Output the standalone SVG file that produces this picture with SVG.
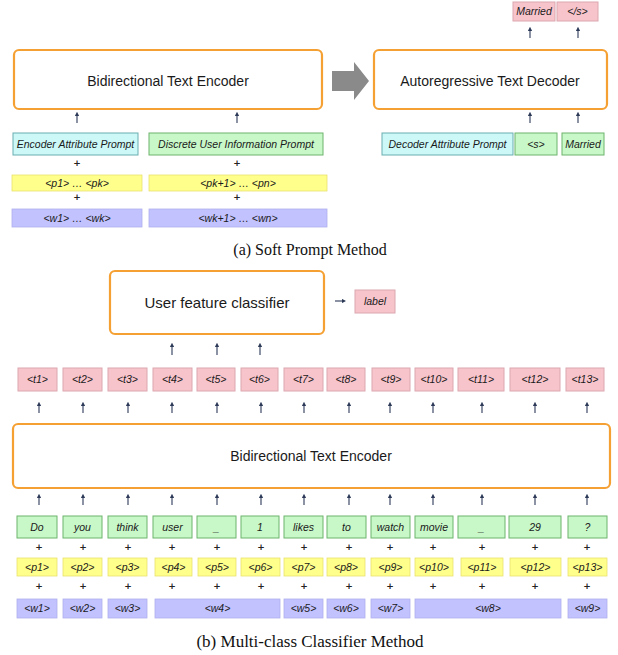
<svg xmlns="http://www.w3.org/2000/svg" width="618" height="655" viewBox="0 0 618 655">
<defs>
<marker id="ah" viewBox="0 0 6 6" refX="3" refY="3" markerWidth="4" markerHeight="4" orient="auto">
<path d="M0,0 L6,3 L0,6 z" fill="#2c3a58"/>
</marker>
<style>
.big{fill:#fff;stroke:#f5a032;stroke-width:2.2}
.t{font-family:"Liberation Sans",Arial,sans-serif;fill:#1a1a1a}
.ti{font-family:"Liberation Sans",Arial,sans-serif;font-style:italic;fill:#1a1a1a;font-size:10.5px;text-anchor:middle}
.h{font-size:14px;text-anchor:middle}
.cap{font-family:"Liberation Serif","Times New Roman",serif;fill:#111;text-anchor:middle}
.cy{fill:#ccf8f8;stroke:#6aaeb0;stroke-width:1}
.gr{fill:#c8f7c8;stroke:#6cb46c;stroke-width:1}
.pk{fill:#f8c4cc;stroke:#dca8b0;stroke-width:1}
.ye{fill:#ffff8c;stroke:#e8e070;stroke-width:0.8}
.pu{fill:#c2c2ff;stroke:#b0b0ee;stroke-width:0.8}
.ar{stroke:#2c3a58;stroke-width:1.1;marker-end:url(#ah)}
.pl{font-family:"DejaVu Sans",sans-serif;font-size:9px;font-weight:bold;fill:#222;text-anchor:middle}
</style>
</defs>

<!-- (a) Soft Prompt Method -->
<g id="encoderA"><rect class="big" x="14" y="50" width="308" height="59" rx="5"/><text class="t h" x="168" y="86">Bidirectional Text Encoder</text></g>
<g id="bigArrow"><path d="M332,71 L354,71 L354,62 L369,81 L354,100 L354,91 L332,91 z" fill="#8a8a8a"/></g>
<g id="decoderA"><rect class="big" x="374" y="50" width="233" height="59" rx="5"/><text class="t h" x="490" y="86">Autoregressive Text Decoder</text></g>
<g id="outMarried"><rect class="pk" x="513" y="2" width="42" height="19"/><text class="ti" x="534" y="15">Married</text></g>
<g id="outEnd"><rect class="pk" x="557" y="2" width="41" height="19"/><text class="ti" x="577.5" y="15">&lt;/s&gt;</text></g>
<g id="encPrompt"><rect class="cy" x="13" y="133" width="125" height="22"/><text class="ti" x="75.5" y="148" font-size="10">Encoder Attribute Prompt</text></g>
<g id="discPrompt"><rect class="gr" x="149" y="133" width="174" height="22"/><text class="ti" x="236" y="148">Discrete User Information Prompt</text></g>
<g id="pA1"><rect class="ye" x="12" y="175" width="130" height="16"/><text class="ti" x="77" y="187">&lt;p1&gt; … &lt;pk&gt;</text></g>
<g id="pA2"><rect class="ye" x="149" y="175" width="178" height="16"/><text class="ti" x="238" y="187">&lt;pk+1&gt; … &lt;pn&gt;</text></g>
<g id="wA1"><rect class="pu" x="12" y="209" width="130" height="18"/><text class="ti" x="77" y="222">&lt;w1&gt; … &lt;wk&gt;</text></g>
<g id="wA2"><rect class="pu" x="149" y="209" width="178" height="18"/><text class="ti" x="238" y="222">&lt;wk+1&gt; … &lt;wn&gt;</text></g>
<g id="decPrompt"><rect class="cy" x="382" y="133" width="131" height="22"/><text class="ti" x="447.5" y="148">Decoder Attribute Prompt</text></g>
<g id="inS"><rect class="gr" x="515" y="133" width="42" height="22"/><text class="ti" x="536" y="148">&lt;s&gt;</text></g>
<g id="inMarried"><rect class="gr" x="562" y="133" width="42" height="22"/><text class="ti" x="583" y="148">Married</text></g>
<g id="plusA"><text class="pl" x="77" y="166">+</text><text class="pl" x="237" y="166">+</text><text class="pl" x="77" y="200">+</text><text class="pl" x="237" y="200">+</text></g>
<text class="cap" x="310" y="255" font-size="16">(a) Soft Prompt Method</text>

<!-- (b) Multi-class Classifier Method -->
<g id="classifier"><rect class="big" x="110" y="271" width="214" height="63" rx="5"/><text class="t" x="217" y="308" font-size="15" text-anchor="middle">User feature classifier</text></g>
<g id="labelOut"><rect class="pk" x="355" y="290" width="40" height="23"/><text class="ti" x="375" y="305">label</text></g>
<g id="encoderB"><rect class="big" x="13" y="424" width="597" height="64" rx="5"/><text class="t h" x="311" y="461">Bidirectional Text Encoder</text></g>

<g id="tRow">
<rect class="pk" x="18" y="368" width="39" height="23"/><text class="ti" x="37.5" y="383">&lt;t1&gt;</text>
<rect class="pk" x="63" y="368" width="39" height="23"/><text class="ti" x="82.5" y="383">&lt;t2&gt;</text>
<rect class="pk" x="108" y="368" width="39" height="23"/><text class="ti" x="127.5" y="383">&lt;t3&gt;</text>
<rect class="pk" x="153" y="368" width="39" height="23"/><text class="ti" x="172.5" y="383">&lt;t4&gt;</text>
<rect class="pk" x="197" y="368" width="38" height="23"/><text class="ti" x="216" y="383">&lt;t5&gt;</text>
<rect class="pk" x="241" y="368" width="37" height="23"/><text class="ti" x="259.5" y="383">&lt;t6&gt;</text>
<rect class="pk" x="284" y="368" width="39" height="23"/><text class="ti" x="303.5" y="383">&lt;t7&gt;</text>
<rect class="pk" x="327" y="368" width="38" height="23"/><text class="ti" x="346" y="383">&lt;t8&gt;</text>
<rect class="pk" x="372" y="368" width="38" height="23"/><text class="ti" x="391" y="383">&lt;t9&gt;</text>
<rect class="pk" x="415" y="368" width="38" height="23"/><text class="ti" x="434" y="383">&lt;t10&gt;</text>
<rect class="pk" x="458" y="368" width="46" height="23"/><text class="ti" x="481" y="383">&lt;t11&gt;</text>
<rect class="pk" x="510" y="368" width="50" height="23"/><text class="ti" x="535" y="383">&lt;t12&gt;</text>
<rect class="pk" x="566" y="368" width="38" height="23"/><text class="ti" x="585" y="383">&lt;t13&gt;</text>
</g>

<g id="wordRow">
<rect class="gr" x="17" y="516" width="40" height="22"/><text class="ti" x="37" y="531">Do</text>
<rect class="gr" x="63" y="516" width="39" height="22"/><text class="ti" x="82.5" y="531">you</text>
<rect class="gr" x="108" y="516" width="39" height="22"/><text class="ti" x="127.5" y="531">think</text>
<rect class="gr" x="153" y="516" width="39" height="22"/><text class="ti" x="172.5" y="531">user</text>
<rect class="gr" x="197" y="516" width="39" height="22"/><text class="ti" x="216.5" y="531">_</text>
<rect class="gr" x="241" y="516" width="38" height="22"/><text class="ti" x="260" y="531">1</text>
<rect class="gr" x="284" y="516" width="39" height="22"/><text class="ti" x="303.5" y="531">likes</text>
<rect class="gr" x="327" y="516" width="39" height="22"/><text class="ti" x="346.5" y="531">to</text>
<rect class="gr" x="371" y="516" width="39" height="22"/><text class="ti" x="390.5" y="531">watch</text>
<rect class="gr" x="415" y="516" width="38" height="22"/><text class="ti" x="434" y="531">movie</text>
<rect class="gr" x="458" y="516" width="47" height="22"/><text class="ti" x="481.5" y="531">_</text>
<rect class="gr" x="509" y="516" width="52" height="22"/><text class="ti" x="535" y="531">29</text>
<rect class="gr" x="568" y="516" width="39" height="22"/><text class="ti" x="587.5" y="531">?</text>
</g>

<g id="pRow">
<rect class="ye" x="17" y="558" width="40" height="18"/><text class="ti" x="37" y="571">&lt;p1&gt;</text>
<rect class="ye" x="63" y="558" width="39" height="18"/><text class="ti" x="82.5" y="571">&lt;p2&gt;</text>
<rect class="ye" x="108" y="558" width="39" height="18"/><text class="ti" x="127.5" y="571">&lt;p3&gt;</text>
<rect class="ye" x="155" y="558" width="37" height="18"/><text class="ti" x="173.5" y="571">&lt;p4&gt;</text>
<rect class="ye" x="198" y="558" width="38" height="18"/><text class="ti" x="217" y="571">&lt;p5&gt;</text>
<rect class="ye" x="241" y="558" width="39" height="18"/><text class="ti" x="260.5" y="571">&lt;p6&gt;</text>
<rect class="ye" x="284" y="558" width="39" height="18"/><text class="ti" x="303.5" y="571">&lt;p7&gt;</text>
<rect class="ye" x="327" y="558" width="38" height="18"/><text class="ti" x="346" y="571">&lt;p8&gt;</text>
<rect class="ye" x="371" y="558" width="39" height="18"/><text class="ti" x="390.5" y="571">&lt;p9&gt;</text>
<rect class="ye" x="415" y="558" width="38" height="18"/><text class="ti" x="434" y="571">&lt;p10&gt;</text>
<rect class="ye" x="461" y="558" width="42" height="18"/><text class="ti" x="482" y="571">&lt;p11&gt;</text>
<rect class="ye" x="510" y="558" width="51" height="18"/><text class="ti" x="535.5" y="571">&lt;p12&gt;</text>
<rect class="ye" x="568" y="558" width="39" height="18"/><text class="ti" x="587.5" y="571">&lt;p13&gt;</text>
</g>

<g id="wRow">
<rect class="pu" x="17" y="599" width="40" height="19"/><text class="ti" x="37" y="612">&lt;w1&gt;</text>
<rect class="pu" x="63" y="599" width="39" height="19"/><text class="ti" x="82.5" y="612">&lt;w2&gt;</text>
<rect class="pu" x="108" y="599" width="39" height="19"/><text class="ti" x="127.5" y="612">&lt;w3&gt;</text>
<rect class="pu" x="155" y="599" width="125" height="19"/><text class="ti" x="217.5" y="612">&lt;w4&gt;</text>
<rect class="pu" x="284" y="599" width="39" height="19"/><text class="ti" x="303.5" y="612">&lt;w5&gt;</text>
<rect class="pu" x="327" y="599" width="38" height="19"/><text class="ti" x="346" y="612">&lt;w6&gt;</text>
<rect class="pu" x="371" y="599" width="39" height="19"/><text class="ti" x="390.5" y="612">&lt;w7&gt;</text>
<rect class="pu" x="415" y="599" width="146" height="19"/><text class="ti" x="488" y="612">&lt;w8&gt;</text>
<rect class="pu" x="568" y="599" width="39" height="19"/><text class="ti" x="587.5" y="612">&lt;w9&gt;</text>
</g>

<g id="plusB">
<text class="pl" x="39" y="550">+</text><text class="pl" x="83" y="550">+</text><text class="pl" x="128" y="550">+</text><text class="pl" x="172" y="550">+</text><text class="pl" x="217" y="550">+</text><text class="pl" x="261" y="550">+</text><text class="pl" x="304" y="550">+</text><text class="pl" x="349" y="550">+</text><text class="pl" x="390" y="550">+</text><text class="pl" x="433" y="550">+</text><text class="pl" x="482" y="550">+</text><text class="pl" x="535" y="550">+</text><text class="pl" x="587" y="550">+</text>
<text class="pl" x="39" y="589">+</text><text class="pl" x="83" y="589">+</text><text class="pl" x="128" y="589">+</text><text class="pl" x="172" y="589">+</text><text class="pl" x="217" y="589">+</text><text class="pl" x="261" y="589">+</text><text class="pl" x="304" y="589">+</text><text class="pl" x="349" y="589">+</text><text class="pl" x="390" y="589">+</text><text class="pl" x="433" y="589">+</text><text class="pl" x="482" y="589">+</text><text class="pl" x="535" y="589">+</text><text class="pl" x="587" y="589">+</text>
</g>

<text class="cap" x="310" y="647" font-size="17">(b) Multi-class Classifier Method</text>

<g id="connectors">
<line class="ar" x1="77" y1="123" x2="77" y2="114"/>
<line class="ar" x1="237" y1="123" x2="237" y2="114"/>
<line class="ar" x1="530" y1="123" x2="530" y2="114"/>
<line class="ar" x1="578" y1="123" x2="578" y2="114"/>
<line class="ar" x1="530" y1="38" x2="530" y2="29"/>
<line class="ar" x1="578" y1="38" x2="578" y2="29"/>
<line class="ar" x1="335" y1="301" x2="344" y2="301"/>
<line class="ar" x1="172" y1="355" x2="172" y2="345"/>
<line class="ar" x1="217" y1="355" x2="217" y2="345"/>
<line class="ar" x1="260" y1="355" x2="260" y2="345"/>
<line class="ar" x1="39" y1="413" x2="39" y2="404"/>
<line class="ar" x1="83" y1="413" x2="83" y2="404"/>
<line class="ar" x1="128" y1="413" x2="128" y2="404"/>
<line class="ar" x1="172" y1="413" x2="172" y2="404"/>
<line class="ar" x1="217" y1="413" x2="217" y2="404"/>
<line class="ar" x1="261" y1="413" x2="261" y2="404"/>
<line class="ar" x1="304" y1="413" x2="304" y2="404"/>
<line class="ar" x1="349" y1="413" x2="349" y2="404"/>
<line class="ar" x1="390" y1="413" x2="390" y2="404"/>
<line class="ar" x1="433" y1="413" x2="433" y2="404"/>
<line class="ar" x1="482" y1="413" x2="482" y2="404"/>
<line class="ar" x1="535" y1="413" x2="535" y2="404"/>
<line class="ar" x1="587" y1="413" x2="587" y2="404"/>
<line class="ar" x1="39" y1="505" x2="39" y2="496"/>
<line class="ar" x1="83" y1="505" x2="83" y2="496"/>
<line class="ar" x1="128" y1="505" x2="128" y2="496"/>
<line class="ar" x1="172" y1="505" x2="172" y2="496"/>
<line class="ar" x1="217" y1="505" x2="217" y2="496"/>
<line class="ar" x1="261" y1="505" x2="261" y2="496"/>
<line class="ar" x1="304" y1="505" x2="304" y2="496"/>
<line class="ar" x1="349" y1="505" x2="349" y2="496"/>
<line class="ar" x1="390" y1="505" x2="390" y2="496"/>
<line class="ar" x1="433" y1="505" x2="433" y2="496"/>
<line class="ar" x1="482" y1="505" x2="482" y2="496"/>
<line class="ar" x1="535" y1="505" x2="535" y2="496"/>
<line class="ar" x1="587" y1="505" x2="587" y2="496"/>
</g>
</svg>
